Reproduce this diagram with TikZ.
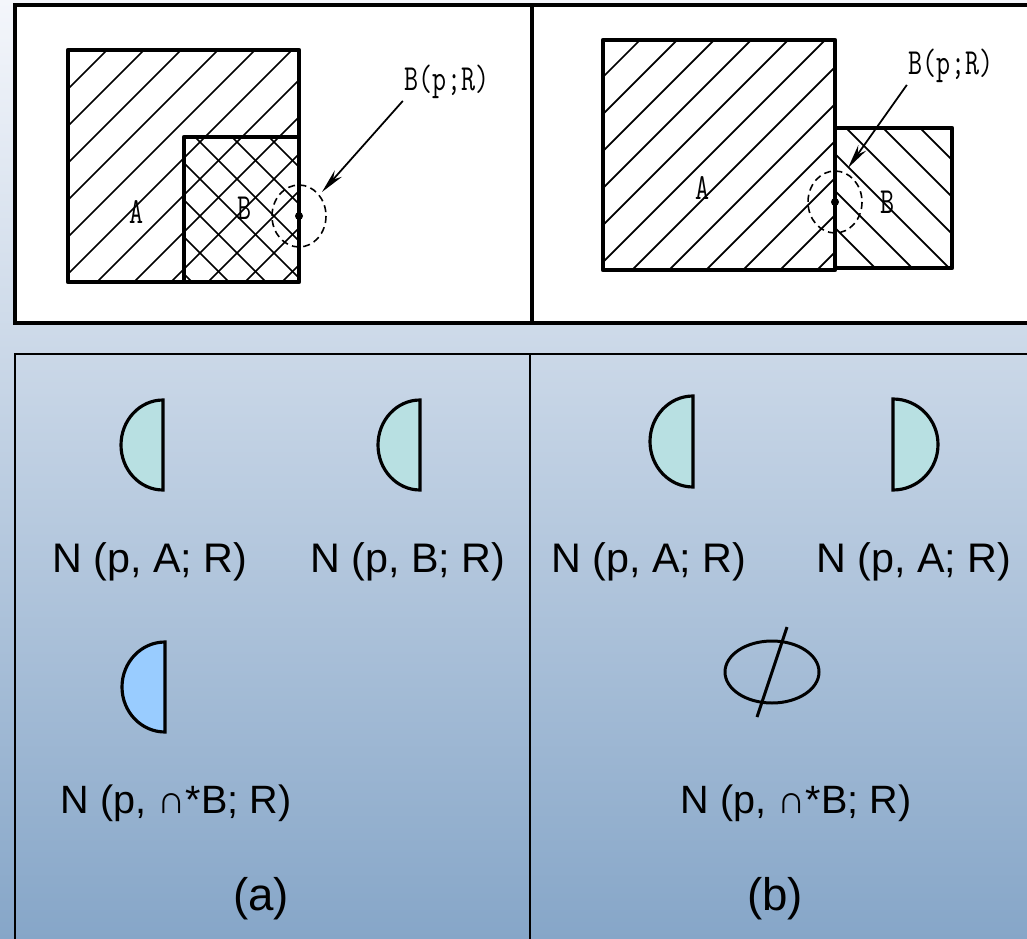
\documentclass[tikz,border=0pt]{standalone}
\usepackage{fontspec}
\setmainfont{Liberation Sans}
\usepackage{graphicx}
\usepackage{tikz}
\usetikzlibrary{arrows.meta}
\definecolor{BgTop}{HTML}{F4F6FB}
\definecolor{BgMid}{HTML}{C9D6E8}
\definecolor{BgBot}{HTML}{86A6C8}
\definecolor{NbhdTeal}{HTML}{B8E0E2}
\definecolor{NbhdBlue}{HTML}{99CCFF}
\newcommand{\tall}[1]{\scalebox{1}[1.35]{#1}}

\begin{document}
\begin{tikzpicture}[x=0.02cm,y=-0.02cm,
    outline/.style={line width=2.6pt,line join=round},
    hatch/.style={line width=1pt},
    nbhd/.style={line width=0.9pt,dash pattern=on 4pt off 2.5pt},
    pointer/.style={line width=1pt,-{Stealth[length=14pt,width=5.5pt]}},
    half/.style={draw,line width=1.8pt},
    lbl/.style={font=\ttfamily\fontsize{15.5}{18}\selectfont,inner sep=1pt},
    formula/.style={anchor=base,font=\fontsize{23.5}{28}\selectfont,inner sep=0pt}]
  \clip (0,0) rectangle (1027,939);
  \shade[top color=BgTop,middle color=BgMid,bottom color=BgBot] (0,0) rectangle (1027,939);
  % panels
  \draw[fill=white,line width=2.4pt] (15,5) rectangle (1040,323);
  \draw[line width=2.4pt] (532,5) -- (532,323);
  \draw[line width=1.6pt] (15,354) rectangle (1040,960);
  \draw[line width=1.6pt] (530,354) -- (530,960);

  % (a) B inside A
  \begin{scope}
    \clip (68,50) rectangle (299,282);
    \foreach \c in {120,157,...,590} \draw[hatch] (\c-300,300) -- (\c,0);
  \end{scope}
  \begin{scope}
    \clip (184,137) rectangle (299,282);
    \foreach \c in {-90,-53,...,170} \draw[hatch] (\c,0) -- (\c+300,300);
  \end{scope}
  \draw[outline] (68,50) rectangle (299,282);
  \draw[outline] (184,282) -- (184,137) -- (299,137);
  \draw[nbhd] (299,216) ellipse [x radius=27,y radius=31];
  \fill (299,216) circle [radius=4];
  \node[lbl] (labA1) at (137,212) {\tall{A}};
  \node[lbl] (labB1) at (245,208) {\tall{B}};
  \node[lbl] (ballL) at (447,82) {\tall{B(p;R)}};
  \coordinate (tipL) at (322,192);
  \draw[pointer] (ballL.south west) -- (tipL);

  % (b) B beside A
  \begin{scope}
    \clip (603,40) rectangle (835,270);
    \foreach \c in {643,680,...,1110} \draw[hatch] (\c-300,300) -- (\c,0);
  \end{scope}
  \begin{scope}
    \clip (835,128) rectangle (952,268);
    \foreach \c in {570,607,...,830} \draw[hatch] (\c,0) -- (\c+300,300);
  \end{scope}
  \draw[outline] (603,40) rectangle (835,270);
  \draw[outline] (835,128) -- (952,128) -- (952,268) -- (835,268);
  \draw[nbhd] (835,202) ellipse [x radius=27,y radius=31];
  \fill (835,202) circle [radius=4];
  \node[lbl] (labA2) at (703,188) {\tall{A}};
  \node[lbl] (labB2) at (887,202) {\tall{B}};
  \node[lbl] (ballR) at (951,66) {\tall{B(p;R)}};
  \coordinate (tipR) at (848,168);
  \draw[pointer] (ballR.south west) -- (tipR);

  % neighbourhoods
  \draw[half,fill=NbhdTeal] (163,400) arc [start angle=-90,end angle=-270,x radius=42,y radius=45] -- cycle;
  \draw[half,fill=NbhdTeal] (420,400) arc [start angle=-90,end angle=-270,x radius=42,y radius=45] -- cycle;
  \draw[half,fill=NbhdTeal] (693,396) arc [start angle=-90,end angle=-270,x radius=43,y radius=45.5] -- cycle;
  \draw[half,fill=NbhdTeal] (893,399) arc [start angle=-90,end angle=90,x radius=45,y radius=45.5] -- cycle;
  \draw[half,fill=NbhdBlue] (165,642) arc [start angle=-90,end angle=-270,x radius=43,y radius=45] -- cycle;
  \draw[line width=1.7pt] (772,672) ellipse [x radius=47,y radius=31];
  \draw[line width=1.7pt] (787,627) -- (757,717);

  \node[formula] (nA1) at (150,572) {N (p, A; R)};
  \node[formula] (nB1) at (408,572) {N (p, B; R)};
  \node[formula] (nA2) at (649,572) {N (p, A; R)};
  \node[formula] (nA3) at (914,572) {N (p, A; R)};
  \node[formula,font=\fontsize{22.5}{27}\selectfont] (nCapL) at (176,813) {N (p, ∩*B; R)};
  \node[formula,font=\fontsize{22.5}{27}\selectfont] (nCapR) at (796,813) {N (p, ∩*B; R)};
  \node[formula,font=\fontsize{26}{30}\selectfont] (capA) at (261,910) {(a)};
  \node[formula,font=\fontsize{26}{30}\selectfont] (capB) at (775,910) {(b)};
\end{tikzpicture}
\end{document}
